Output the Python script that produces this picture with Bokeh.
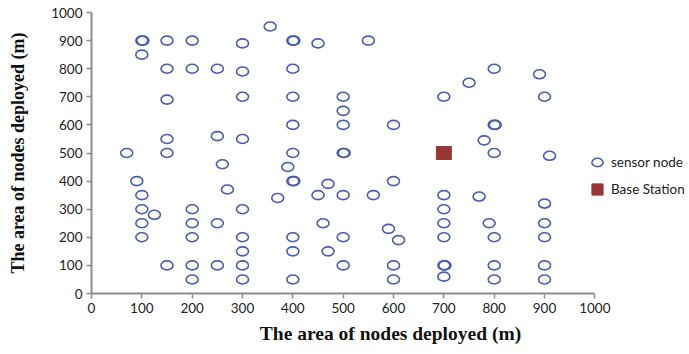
from bokeh.plotting import figure
from bokeh.models import Range1d, Legend, LegendItem, FixedTicker
from bokeh.embed import file_html
from bokeh.resources import INLINE

# Sensor node positions (m)
sensor_x = [100, 102, 150, 200, 300, 355, 400, 402, 450, 550,
            100, 150, 200, 250, 300, 400, 800, 750, 890,
            150, 300, 400, 500, 700, 900, 500,
            400, 500, 600, 800, 802,
            150, 250, 300, 780,
            70, 150, 400, 500, 502, 800, 910,
            260, 390, 90, 400, 402, 470, 600, 270,
            100, 370, 450, 500, 560, 700, 770, 900,
            100, 125, 200, 300, 700,
            100, 200, 250, 460, 590, 700, 790, 900, 610,
            100, 200, 300, 400, 500, 700, 800, 900,
            300, 400, 470,
            150, 200, 250, 300, 500, 600, 700, 702, 800, 900,
            200, 300, 400, 600, 700, 800, 900]
sensor_y = [900, 900, 900, 900, 890, 950, 900, 900, 890, 900,
            850, 800, 800, 800, 790, 800, 800, 750, 780,
            690, 700, 700, 700, 700, 700, 650,
            600, 600, 600, 600, 600,
            550, 560, 550, 545,
            500, 500, 500, 500, 500, 500, 490,
            460, 450, 400, 400, 400, 390, 400, 370,
            350, 340, 350, 350, 350, 350, 345, 320,
            300, 280, 300, 300, 300,
            250, 250, 250, 250, 230, 250, 250, 250, 190,
            200, 200, 200, 200, 200, 200, 200, 200,
            150, 150, 150,
            100, 100, 100, 100, 100, 100, 100, 100, 100, 100,
            50, 50, 50, 50, 60, 50, 50]

# Base station position (m)
base_x = [700]
base_y = [500]

ticks = [0, 100, 200, 300, 400, 500, 600, 700, 800, 900, 1000]
axis_title = "The area of nodes deployed (m)"

# The frame runs past 1000 m on the right to leave room for the legend;
# the x axis itself is bounded to 0-1000.
p = figure(width=689, height=354, output_backend="svg", toolbar_location=None,
           x_range=Range1d(0, 1188), y_range=Range1d(0, 1000),
           min_border_left=91, min_border_right=0, min_border_top=12,
           min_border_bottom=61)
p.outline_line_color = None
p.grid.visible = False
p.background_fill_color = "white"
p.border_fill_color = "white"

for ax in (p.xaxis, p.yaxis):
    ax.ticker = FixedTicker(ticks=ticks)
    ax.bounds = (0, 1000)
    ax.minor_tick_line_color = None
    ax.axis_line_color = "#8c8c8c"
    ax.axis_line_width = 2
    ax.major_tick_line_color = "#8c8c8c"
    ax.major_tick_line_width = 1.5
    ax.major_tick_out = 5
    ax.major_tick_in = 0
    ax.major_label_text_font = "Lato"
    ax.major_label_text_font_size = "13.5px"
    ax.major_label_text_color = "#222222"
    ax.axis_label = axis_title
    ax.axis_label_text_font = "Liberation Serif"
    ax.axis_label_text_font_style = "bold"
    ax.axis_label_text_color = "#111111"

p.xaxis.axis_label_text_font_size = "19.5px"
p.yaxis.axis_label_text_font_size = "18px"
p.xaxis.major_label_standoff = 4
p.xaxis.axis_label_standoff = 7
p.yaxis.major_label_standoff = 4
p.yaxis.axis_label_standoff = 20

nodes = p.ellipse(sensor_x, sensor_y, width=12, height=9,
                  width_units="screen", height_units="screen",
                  fill_color=None, line_color="#4a5fab", line_width=1.6)
base = p.rect(base_x, base_y, width=15, height=13,
              width_units="screen", height_units="screen",
              fill_color="#953735", line_color="#953735")

legend = Legend(items=[LegendItem(label="sensor node", renderers=[nodes]),
                       LegendItem(label="Base Station", renderers=[base])],
                location=(499, 96), padding=0, margin=0, spacing=11,
                glyph_width=14, glyph_height=14, label_standoff=7,
                label_text_font="Lato", label_text_font_size="13.5px",
                label_text_color="#222222",
                background_fill_alpha=0, border_line_color=None)
p.add_layout(legend, "center")

open("out.html", "w").write(file_html(p, INLINE))
